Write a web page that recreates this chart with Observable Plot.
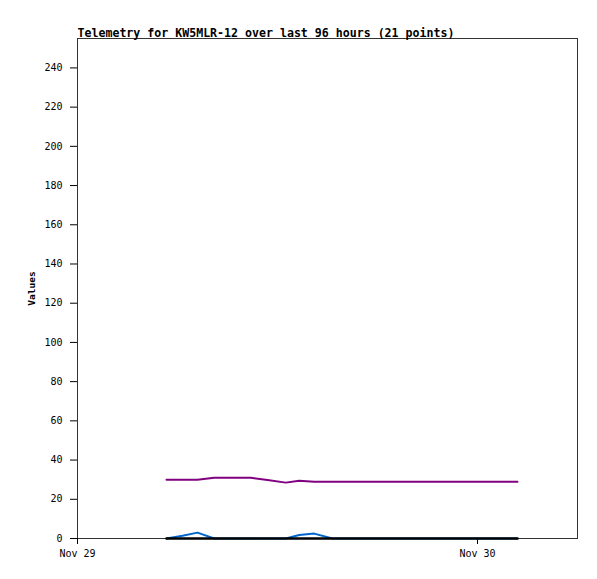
<!DOCTYPE html>
<html><head><meta charset="utf-8">
<script src="https://cdn.jsdelivr.net/npm/d3@7"></script>
<script src="https://cdn.jsdelivr.net/npm/@observablehq/plot@0.6"></script>
<style>body{margin:0;background:#fff} svg{display:block}</style>
</head><body><div id="chart"></div>
<script>
const title = "Telemetry for KW5MLR-12 over last 96 hours (21 points)";
const yLabel = "Values";
// hours after Nov 29 00:00
const hours = [5.34, 6.3, 7.2, 8.2, 9.2, 10.4, 11.4, 12.5, 13.3, 14.2, 15.3, 16.4, 17.5, 18.6, 19.6, 20.7, 21.8, 22.9, 24.0, 25.2, 26.4];
const purpleValues = [30, 30, 30, 31, 31, 31, 29.8, 28.5, 29.5, 29, 29, 29, 29, 29, 29, 29, 29, 29, 29, 29, 29];
const blueValues = [0, 1.4, 3, 0, 0, 0, 0, 0, 1.8, 2.5, 0, 0, 0, 0, 0, 0, 0, 0, 0, 0, 0];
const blackValues = [0, 0, 0, 0, 0, 0, 0, 0, 0, 0, 0, 0, 0, 0, 0, 0, 0, 0, 0, 0, 0];
const yTicks = [0, 20, 40, 60, 80, 100, 120, 140, 160, 180, 200, 220, 240];
const xTickLabels = ["Nov 29", "Nov 30"];
const xTickHours = [0, 24];
const xDomainHours = [0, 30];
const yDomain = [0, 255];

const base = Date.UTC(2024, 10, 29);
const toDate = h => new Date(base + h * 3600000);
const mk = vals => hours.map((h, i) => ({t: toDate(h), v: vals[i]}));

const chart = Plot.plot({
  width: 597, height: 579,
  marginTop: 38, marginLeft: 77, marginRight: 20, marginBottom: 41,
  style: {fontFamily: "DejaVu Sans Mono", fontSize: "10px", background: "#fff", color: "#000"},
  x: {type: "utc", domain: xDomainHours.map(toDate)},
  y: {domain: yDomain},
  marks: [
    Plot.frame({stroke: "#333"}),
    Plot.axisY({ticks: yTicks, tickSize: 7, tickPadding: 8, label: null, fontSize: 10}),
    Plot.axisX({ticks: xTickHours.map(toDate), tickFormat: (d) => xTickLabels[xTickHours.indexOf((d - base) / 3600000)], tickSize: 6, tickPadding: 5, label: null, fontSize: 10}),
    Plot.text([yLabel], {frameAnchor: "left", textAnchor: "middle", rotate: -90, dx: -46, fontWeight: "bold", fontSize: 9.5}),
    Plot.text([title], {frameAnchor: "top-left", textAnchor: "start", lineAnchor: "bottom", dy: -2, fontWeight: "bold", fontSize: 11.6}),
    Plot.line(mk(purpleValues), {x: "t", y: "v", stroke: "#800080", strokeWidth: 2}),
    Plot.line(mk(blueValues), {x: "t", y: "v", stroke: "#0066cc", strokeWidth: 2}),
    Plot.line(mk(blackValues), {x: "t", y: "v", stroke: "#000", strokeWidth: 2.5})
  ]
});
document.getElementById("chart").appendChild(chart);
</script></body></html>
